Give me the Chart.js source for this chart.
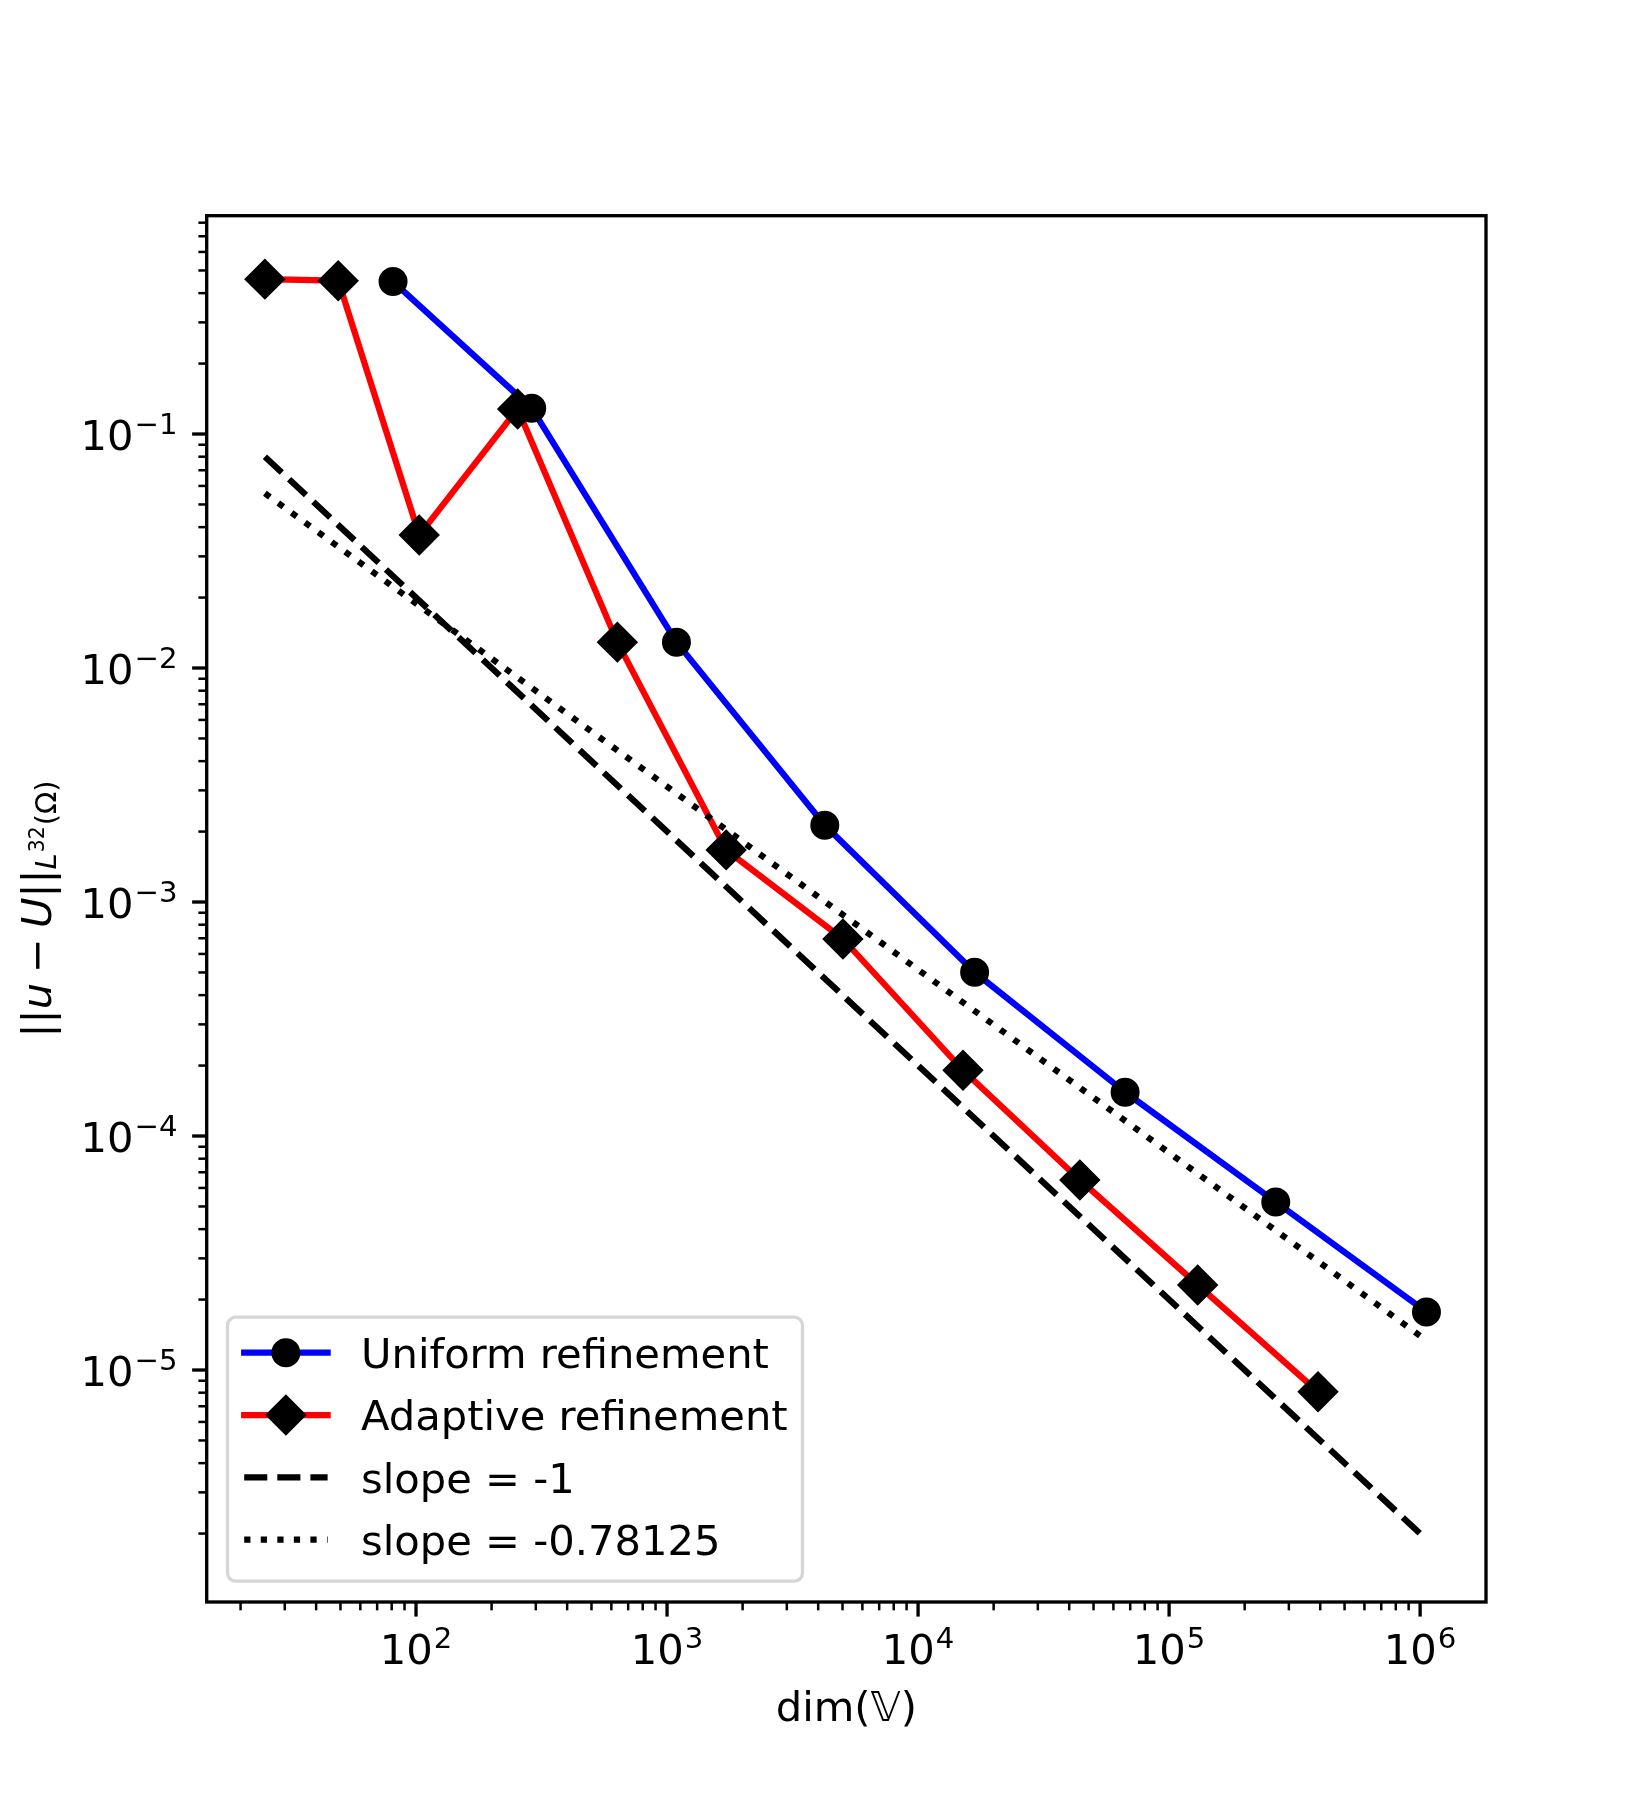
<!DOCTYPE html>
<html>
<head>
<meta charset="utf-8">
<script src="https://cdn.jsdelivr.net/npm/chart.js@4/dist/chart.umd.min.js"></script>
<style>
  html, body { margin: 0; padding: 0; background: #fff; }
  #wrap { width: 1650px; height: 1800px; }
</style>
</head>
<body>
<div id="wrap"><canvas id="errChart" width="1650" height="1800"></canvas></div>
<script>
// values (dofs vs error)
const uniformDofs = [81, 289, 1090, 4250, 16800, 66800, 266000, 1060000];
const uniformErr = [0.448, 0.129, 0.0129, 0.00213, 5.01e-4, 1.54e-4, 5.22e-5, 1.77e-5];
const adaptiveDofs = [25, 49, 103, 254, 634, 1720, 5020, 15100, 44100, 130000, 392000];
const adaptiveErr = [0.459, 0.452, 0.037, 0.128, 0.0129, 0.00167, 6.95e-4, 1.91e-4, 6.49e-5, 2.31e-5, 8.07e-6];
// reference slope lines (just their two end points)
const slopeDofs = [25, 1000000];
const slopeOneErr = [0.08, 2.0e-6];
const slopeFracErr = [0.0558, 1.4e-5];

const seriesLabels = ["Uniform refinement", "Adaptive refinement", "slope = -1", "slope = -0.78125"];
// decade tick labels, written as base + exponent
const xTickExps = [2, 3, 4, 5, 6];
const xTickLabels = ["2", "3", "4", "5", "6"];
const yTickExps = [-1, -2, -3, -4, -5];
const yTickLabels = ["\u22121", "\u22122", "\u22123", "\u22124", "\u22125"];

const FS = 41.67; // 10pt at 300 dpi
const FONT = "DejaVu Sans";

function toPoints(xs, ys) {
  return xs.map((x, i) => ({ x: x, y: ys[i] }));
}

function isPow10(v) {
  const e = Math.round(Math.log10(v));
  return Math.abs(v - Math.pow(10, e)) / v < 1e-9;
}

// matplotlib style log ticks: 1..9 x 10^e
function logTicks(scale) {
  const out = [];
  const lo = Math.floor(Math.log10(scale.min));
  const hi = Math.ceil(Math.log10(scale.max));
  for (let e = lo; e <= hi; e++) {
    for (let m = 1; m <= 9; m++) {
      const v = m * Math.pow(10, e);
      if (v >= scale.min && v <= scale.max) out.push({ value: v, major: m === 1 });
    }
  }
  scale.ticks = out;
}

function drawMarker(ctx, style, r, bw, x, y) {
  ctx.save();
  ctx.fillStyle = "#000";
  ctx.strokeStyle = "#000";
  ctx.lineWidth = bw;
  ctx.setLineDash([]);
  ctx.beginPath();
  if (style === "circle") {
    ctx.arc(x, y, r, 0, Math.PI * 2);
  } else {
    ctx.moveTo(x - r, y);
    ctx.lineTo(x, y - r);
    ctx.lineTo(x + r, y);
    ctx.lineTo(x, y + r);
    ctx.closePath();
  }
  ctx.fill();
  ctx.stroke();
  ctx.restore();
}

// "10" with a raised exponent, like mathtext; align = 'center' or 'right'
function drawPow(ctx, exp, x, baseline, align) {
  const small = FS * 0.7;
  ctx.font = FS + "px " + FONT;
  const wb = ctx.measureText("10").width;
  ctx.font = small + "px " + FONT;
  const we = ctx.measureText(exp).width;
  const w = wb + 1 + we;
  const x0 = align === "right" ? x - w : x - w / 2;
  ctx.textAlign = "left";
  ctx.textBaseline = "alphabetic";
  ctx.font = FS + "px " + FONT;
  ctx.fillText("10", x0, baseline);
  ctx.font = small + "px " + FONT;
  ctx.fillText(exp, x0 + wb + 1, baseline - 15.7);
}

// y label: ||u - U||_{L^{32}(Omega)} in mathtext style
function drawYLabel(ctx, cx, cy) {
  const big = FS, sub = FS * 0.7, sup = FS * 0.49;
  const pieces = [
    { t: "||", f: big + "px " + FONT, dy: 0, gap: 0 },
    { t: "u", f: "italic " + big + "px " + FONT, dy: 0, gap: 10 },
    { t: "\u2212", f: big + "px " + FONT, dy: 0, gap: 10 },
    { t: "U", f: "italic " + big + "px " + FONT, dy: 0, gap: 0 },
    { t: "||", f: big + "px " + FONT, dy: 0, gap: 0 },
    { t: "L", f: "italic " + sub + "px " + FONT, dy: 5, gap: 1 },
    { t: "32", f: sup + "px " + FONT, dy: -7, gap: 1 },
    { t: "(\u03A9)", f: sub + "px " + FONT, dy: 5, gap: 0 }
  ];
  ctx.save();
  let total = 0;
  pieces.forEach(p => {
    ctx.font = p.f;
    p.w = ctx.measureText(p.t).width;
    total += p.w + p.gap;
  });
  ctx.translate(cx, cy);
  ctx.rotate(-Math.PI / 2);
  ctx.fillStyle = "#000";
  ctx.textBaseline = "alphabetic";
  ctx.textAlign = "left";
  let x = -total / 2;
  pieces.forEach(p => {
    ctx.font = p.f;
    ctx.fillText(p.t, x, p.dy);
    x += p.w + p.gap;
  });
  ctx.restore();
}

const mplLook = {
  id: "mplLook",
  afterDatasetsDraw(chart) {
    const ctx = chart.ctx;
    const a = chart.chartArea;
    const xs = chart.scales.x, ys = chart.scales.y;
    ctx.save();
    ctx.strokeStyle = "#000";
    ctx.fillStyle = "#000";
    ctx.setLineDash([]);
    ctx.lineCap = "butt";

    // tick marks, outward, with decade labels
    xs.ticks.forEach(t => {
      const major = isPow10(t.value);
      const px = xs.getPixelForValue(t.value);
      ctx.lineWidth = major ? 3.33 : 2.5;
      ctx.beginPath();
      ctx.moveTo(px, a.bottom);
      ctx.lineTo(px, a.bottom + (major ? 14.58 : 8.33));
      ctx.stroke();
      const i = major ? xTickExps.indexOf(Math.round(Math.log10(t.value))) : -1;
      if (i >= 0) drawPow(ctx, xTickLabels[i], px, a.bottom + 62, "center");
    });
    ys.ticks.forEach(t => {
      const major = isPow10(t.value);
      const py = ys.getPixelForValue(t.value);
      ctx.lineWidth = major ? 3.33 : 2.5;
      ctx.beginPath();
      ctx.moveTo(a.left, py);
      ctx.lineTo(a.left - (major ? 14.58 : 8.33), py);
      ctx.stroke();
      const i = major ? yTickExps.indexOf(Math.round(Math.log10(t.value))) : -1;
      if (i >= 0) drawPow(ctx, yTickLabels[i], a.left - 29.2, py + 15.8, "right");
    });

    // axes frame
    ctx.lineWidth = 3.33;
    ctx.lineJoin = "miter";
    ctx.strokeRect(a.left, a.top, a.right - a.left, a.bottom - a.top);

    // legend, lower left
    const lx = a.left + 20.8, lw = 575, lh = 264;
    const ly = a.bottom - 20.8 - lh;
    ctx.beginPath();
    ctx.roundRect(lx, ly, lw, lh, 8.3);
    ctx.fillStyle = "rgba(255,255,255,0.8)";
    ctx.fill();
    ctx.strokeStyle = "rgba(204,204,204,0.8)";
    ctx.lineWidth = 3.33;
    ctx.stroke();

    chart.data.datasets.forEach((ds, i) => {
      const cy = ly + 35.5 + i * 62.3;
      const x0 = lx + 16.7, x1 = x0 + 83.4;
      ctx.beginPath();
      ctx.setLineDash(ds.borderDash || []);
      ctx.lineCap = ds.borderCapStyle || "butt";
      ctx.strokeStyle = ds.borderColor;
      ctx.lineWidth = ds.borderWidth;
      ctx.moveTo(x0, cy);
      ctx.lineTo(x1, cy);
      ctx.stroke();
      ctx.setLineDash([]);
      if (ds.pointRadius > 0) {
        drawMarker(ctx, ds.pointStyle, ds.pointRadius, ds.pointBorderWidth, (x0 + x1) / 2, cy);
      }
      ctx.fillStyle = "#000";
      ctx.font = FS + "px " + FONT;
      ctx.textAlign = "left";
      ctx.textBaseline = "alphabetic";
      ctx.fillText(ds.label, x1 + 33.4, cy + 15.2);
    });

    // axis titles
    ctx.font = FS + "px " + FONT;
    ctx.textAlign = "center";
    ctx.textBaseline = "alphabetic";
    ctx.fillStyle = "#000";
    ctx.fillText("dim(\uD835\uDD4D)", (a.left + a.right) / 2, 1721);
    drawYLabel(ctx, 50.5, (a.top + a.bottom) / 2);

    ctx.restore();
  }
};

const ctx = document.getElementById("errChart").getContext("2d");
const chart = new Chart(ctx, {
  type: "line",
  data: {
    datasets: [
      {
        label: seriesLabels[0],
        data: toPoints(uniformDofs, uniformErr),
        borderColor: "#0000ff",
        borderWidth: 6.25,
        borderCapStyle: "square",
        borderJoinStyle: "round",
        pointStyle: "circle",
        pointRadius: 13.5,
        pointBorderWidth: 2,
        pointBackgroundColor: "#000",
        pointBorderColor: "#000",
        order: 4
      },
      {
        label: seriesLabels[1],
        data: toPoints(adaptiveDofs, adaptiveErr),
        borderColor: "#ff0000",
        borderWidth: 6.25,
        borderCapStyle: "square",
        borderJoinStyle: "round",
        pointStyle: "rectRot",
        pointRadius: 19.3,
        pointBorderWidth: 2,
        pointBackgroundColor: "#000",
        pointBorderColor: "#000",
        order: 3
      },
      {
        label: seriesLabels[2],
        data: toPoints(slopeDofs, slopeOneErr),
        borderColor: "#000",
        borderWidth: 6.25,
        borderDash: [23.1, 10],
        borderCapStyle: "butt",
        pointRadius: 0,
        order: 2
      },
      {
        label: seriesLabels[3],
        data: toPoints(slopeDofs, slopeFracErr),
        borderColor: "#000",
        borderWidth: 6.25,
        borderDash: [6.25, 10.3],
        borderCapStyle: "butt",
        pointRadius: 0,
        order: 1
      }
    ]
  },
  options: {
    responsive: false,
    animation: false,
    devicePixelRatio: 1,
    events: [],
    layout: { padding: { left: 0, top: 215.7, right: 164, bottom: 0 } },
    plugins: {
      legend: { display: false },
      tooltip: { enabled: false },
      title: { display: false }
    },
    scales: {
      x: {
        type: "logarithmic",
        position: "bottom",
        min: 14.66,
        max: 1.83e6,
        bounds: "data",
        afterBuildTicks: logTicks,
        afterFit(scale) {
          scale.height = 198;
          scale.paddingLeft = 0;
          scale.paddingRight = 0;
        },
        grid: { display: false },
        border: { display: false },
        ticks: { display: false, autoSkip: false }
      },
      y: {
        type: "logarithmic",
        position: "left",
        min: 1.02e-6,
        max: 0.857,
        bounds: "data",
        afterBuildTicks: logTicks,
        afterFit(scale) {
          scale.width = 206.7;
          scale.paddingTop = 0;
          scale.paddingBottom = 0;
        },
        grid: { display: false },
        border: { display: false },
        ticks: { display: false, autoSkip: false }
      }
    }
  },
  plugins: [mplLook]
});
</script>
</body>
</html>
